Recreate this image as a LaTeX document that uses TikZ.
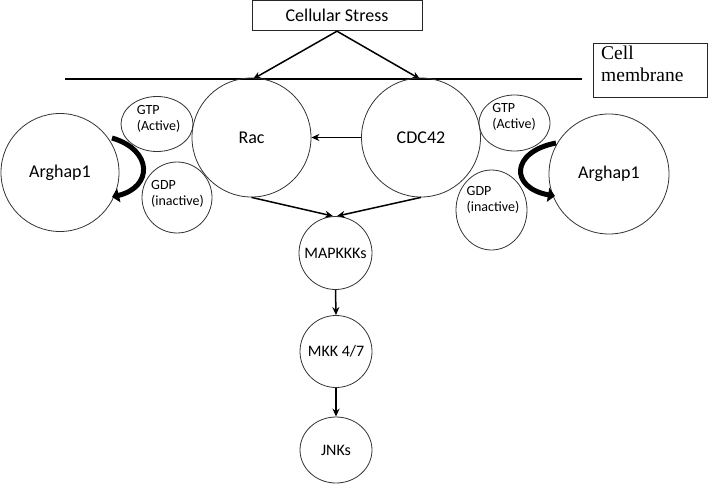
\documentclass[tikz,border=0pt]{standalone}
\usepackage{fontspec}
\setmainfont{Carlito}
\newfontfamily\serifmem{Liberation Serif}
\usetikzlibrary{arrows.meta,shapes.geometric}
\begin{document}
\begin{tikzpicture}[x=1pt,y=-1pt,
  circ/.style={draw=black!80,line width=0.8pt,circle,inner sep=0pt},
  ell/.style={draw=black!80,line width=0.8pt,ellipse,inner sep=0pt},
  bigtxt/.style={font=\fontsize{18}{21}\selectfont},
  midtxt/.style={font=\fontsize{16}{19}\selectfont},
  smalltxt/.style={font=\fontsize{14}{16.5}\selectfont,align=left,inner sep=0pt},
  memtxt/.style={font=\serifmem\fontsize{19.5}{22}\selectfont,anchor=base west,inner sep=0pt},
  arr/.style={line width=1.5pt,-{Stealth[length=8pt,width=7pt]}},
  curvearr/.style={line width=5pt,-{Triangle[length=7pt,width=14pt]}},
  boxst/.style={draw=black!85,line width=0.8pt,rectangle,inner sep=0pt}
]
\useasboundingbox (0,0) rectangle (709,484);
% Cellular stress box
\node[boxst,minimum width=170pt,minimum height=30pt,bigtxt] (stress) at (337,15.8) {Cellular Stress};
% membrane
\coordinate (mL) at (65,79);
\coordinate (mR) at (582,79);
\draw[line width=1.8pt] (mL) -- (mR);
\node[boxst,minimum width=114pt,minimum height=54pt] (membox) at (650,70) {};
\node[memtxt] (memtxt1) at (601,60) {Cell};
\node[memtxt] (memtxt2) at (601,82) {membrane};
\coordinate (tipL) at (253,79);
\coordinate (tipR) at (420,79);
\draw[arr] (stress.south) -- (tipL);
\draw[arr] (stress.south) -- (tipR);
% big circles
\node[circ,minimum size=119pt,bigtxt] (rac) at (251.5,137.5) {Rac};
\node[circ,minimum size=119pt,bigtxt] (cdc) at (421,137.5) {CDC42};
\node[circ,minimum size=118pt,bigtxt] (argL) at (60,172.5) {Arghap1};
\node[circ,minimum size=120pt,bigtxt] (argR) at (609,174) {Arghap1};
% small ellipses
\node[ell,minimum width=72pt,minimum height=55pt] (gtpL) at (157,124) {};
\node[smalltxt] (gtpLt) at (158.5,119) {GTP\\(Active)};
\node[ell,minimum width=70pt,minimum height=71pt] (gdpL) at (177,197.5) {};
\node[smalltxt] (gdpLt) at (177.5,194) {GDP\\(inactive)};
\node[ell,minimum width=71pt,minimum height=56pt] (gtpR) at (514.5,123) {};
\node[smalltxt] (gtpRt) at (514,117) {GTP\\(Active)};
\node[ell,minimum width=71pt,minimum height=80pt] (gdpR) at (491.5,210) {};
\node[smalltxt] (gdpRt) at (493,200) {GDP\\(inactive)};
% cascade
\node[circ,minimum size=73pt,midtxt] (mapk) at (335.5,253) {MAPKKKs};
\node[circ,minimum size=72pt,midtxt] (mkk) at (336,351.5) {MKK 4/7};
\node[ell,minimum width=72pt,minimum height=66pt,midtxt] (jnk) at (336,450) {JNKs};
% arrows
\draw[arr] (cdc.west) -- (rac.east);
\draw[arr] (rac.south) -- ([xshift=-2.5pt]mapk.north);
\draw[arr] (cdc.south) -- ([xshift=1.5pt]mapk.north);
\draw[arr] (mapk.south) -- (mkk.north);
\draw[arr] (mkk.south) -- (jnk.north);
% curved arrows
\coordinate (cL1) at (112,138);
\coordinate (cL2) at (112,197);
\draw[curvearr] (cL1) .. controls (153,150) and (153,187) .. (cL2);
\coordinate (cR1) at (556,143);
\coordinate (cR2) at (555,196);
\draw[curvearr] (cR1) .. controls (510,152) and (510,188) .. (cR2);
\end{tikzpicture}
\end{document}
